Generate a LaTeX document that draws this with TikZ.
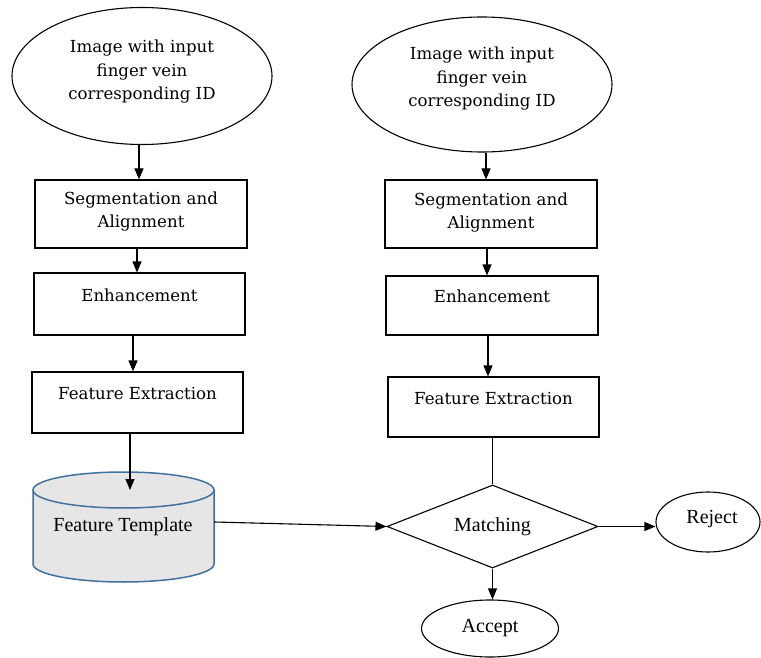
\documentclass[tikz,border=0pt]{standalone}
\usepackage{fontspec}
\setmainfont{DejaVu Serif}
\newfontfamily\timesf{Liberation Serif}
\usetikzlibrary{shapes.geometric,arrows.meta}
\begin{document}
\begin{tikzpicture}[x=1pt,y=1pt,
  every node/.style={inner sep=0pt},
  stepbox/.style={draw, line width=1.1pt},
  oval/.style={draw, ellipse, line width=1.1pt},
  ctxt/.style={font=\fontsize{16.6}{23.5}\selectfont, align=center},
  ttxt/.style={font=\timesf\fontsize{20}{22}\selectfont},
  arr/.style={line width=1.1pt, -{Triangle[length=11pt,width=9pt]}},
  ln/.style={line width=1.1pt}]
\useasboundingbox (0,0) rectangle (761,-658);

% left column
\node[oval, minimum width=260, minimum height=137] (e1) at (142,-76) {};
\node[ctxt] (t1) at (142,-72) {Image with input\\finger vein\\corresponding ID};
\node[stepbox, minimum width=212, minimum height=68] (b1) at (141,-214) {};
\node[ctxt] (t2) at (141,-211.5) {Segmentation and\\Alignment};
\node[stepbox, minimum width=211, minimum height=62] (b2) at (139.5,-304) {};
\node[ctxt] (t3) at (139.5,-295) {Enhancement};
\node[stepbox, minimum width=211, minimum height=61] (b3) at (137.5,-402.5) {};
\node[ctxt] (t4) at (137.5,-394) {Feature Extraction};

% cylinder
\filldraw[draw={rgb,255:red,65;green,113;blue,156}, fill={rgb,255:red,230;green,230;blue,230}, line width=1.5pt]
  (33,-490) -- (33,-564) arc (180:360:90.5 and 18) -- (214,-490) arc (0:180:90.5 and 18) -- cycle;
\draw[draw={rgb,255:red,65;green,113;blue,156}, line width=1.5pt] (33,-490) arc (180:360:90.5 and 18);
\node[minimum width=181, minimum height=92] (ft) at (123.5,-527) {};
\node[ttxt] (ftt) at (123,-527) {Feature Template};
\coordinate (ftop) at (130,-490);

% right column
\node[oval, minimum width=260, minimum height=135] (e2) at (482,-84.5) {};
\node[ctxt] (t5) at (482,-79) {Image with input\\finger vein\\corresponding ID};
\node[stepbox, minimum width=212, minimum height=68] (b4) at (491,-214) {};
\node[ctxt] (t6) at (491,-212.5) {Segmentation and\\Alignment};
\node[stepbox, minimum width=212, minimum height=59] (b5) at (492,-305.5) {};
\node[ctxt] (t7) at (492,-296) {Enhancement};
\node[stepbox, minimum width=211, minimum height=60] (b6) at (493.5,-407) {};
\node[ctxt] (t8) at (493.5,-399) {Feature Extraction};

% decision
\node[draw, diamond, aspect=2.54, minimum width=211, minimum height=83, line width=1.1pt, ttxt] (m) at (492.5,-526.5) {Matching};
\node[oval, minimum width=104, minimum height=60] (rej) at (708,-522) {};
\node[ttxt] (rt) at (712,-519) {Reject};
\node[oval, minimum width=137, minimum height=57] (acc) at (490,-628.5) {};
\node[ttxt] (at) at (490,-628) {Accept};

% connectors
\draw[arr] ([xshift=-3]e1.south) -- ([xshift=-3]e1.south |- b1.north);
\draw[arr] ([xshift=-4]b1.south) -- ([xshift=-4]b1.south |- b2.north);
\draw[arr] ([xshift=-6.5]b2.south) -- ([xshift=-6.5]b2.south |- b3.north);
\draw[arr] (b3.south -| ftop) -- (ftop);
\draw[arr] ([yshift=5]ft.east) -- (m.west);

\draw[arr] ([xshift=4]e2.south) -- ([xshift=4]e2.south |- b4.north);
\draw[arr] ([xshift=-4]b4.south) -- ([xshift=-4]b4.south |- b5.north);
\draw[arr] ([xshift=-4]b5.south) -- ([xshift=-4]b5.south |- b6.north);
\draw[ln] (m.north |- b6.south) -- (m.north);
\draw[arr] (m.east) -- (m.east -| rej.west);
\draw[arr] (m.south) -- (m.south |- acc.north);
\end{tikzpicture}
\end{document}
